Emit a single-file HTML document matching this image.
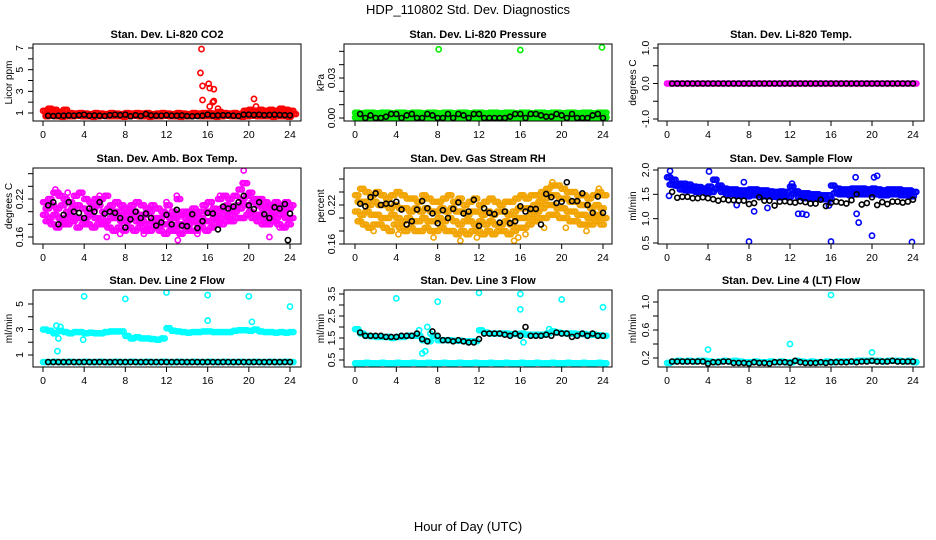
<!DOCTYPE html>
<html><head><meta charset="utf-8"><title>HDP_110802 Std. Dev. Diagnostics</title>
<style>
html,body{margin:0;padding:0;background:#fff;}
svg{display:block;font-family:"Liberation Sans",Arial,sans-serif;}
</style></head>
<body>
<svg id="chart" width="936" height="540" viewBox="0 0 936 540" xmlns="http://www.w3.org/2000/svg">
<text x="468" y="14" font-size="13" text-anchor="middle">HDP_110802  Std. Dev. Diagnostics</text>
<text x="468" y="531" font-size="13" text-anchor="middle">Hour of Day (UTC)</text>
</svg>
<script>
// ---- data (values per time step) ----
const co2Hi=[1.2,1.4,1.3,1.1,1.3,1.0,0.95,1.0,0.95,0.9,1.0,0.95,0.9,1.0,0.95,0.9,1.0,0.95,1.0,0.95,1.0,0.9,0.95,1.0,0.95,0.9,1.0,0.95,0.9,1.0,0.95,1.0,1.0,0.95,1.1,1.0,0.95,1.0,0.9,1.2,1.3,1.2,1.3,1.2,1.3,1.2,1.4,1.3,1.2];
const co2Mid=[0.9,0.85,0.9,0.85,0.85,0.8,0.85,0.85,0.8,0.85,0.85,0.8,0.85,0.85,0.8,0.85,0.85,0.8,0.85,0.85,0.8,0.85,0.85,0.8,0.85,0.85,0.8,0.85,0.85,0.8,0.85,0.85,0.8,0.85,0.85,0.8,0.85,0.85,0.8,0.95,1.0,0.95,1.0,0.95,1.0,0.95,1.0,0.95,0.9];
const co2Lo=[0.7,0.75,0.7,0.65,0.7,0.7,0.75,0.7,0.7,0.65,0.7,0.75,0.7,0.7,0.7,0.65,0.7,0.75,0.7,0.7,0.65,0.7,0.7,0.75,0.7,0.7,0.65,0.7,0.7,0.75,0.7,0.7,0.7,0.65,0.7,0.75,0.7,0.7,0.65,0.7,0.75,0.7,0.7,0.7,0.65,0.7,0.7,0.65];
const co2Black=[0.75,0.72,0.75,0.75,0.78,0.75,0.8,0.85,0.75,0.78,0.75,0.72,0.8,0.85,0.8,0.85,0.7,0.8,0.72,0.9,0.78,0.75,0.75,0.8,0.75,0.75,0.78,0.72,0.7,0.72,0.75,0.85,0.75,0.78,0.8,0.8,0.75,0.72,0.85,0.85,0.82,0.85,0.8,0.82,0.85,0.82,0.8,0.78];
const co2OutHr=[15.4,15.3,15.5,16.1,16.2,16.6,15.5,16.6,16.5,16.2,17.0,20.5,20.7];
const co2OutVal=[6.9,4.7,3.5,3.7,3.3,3.2,2.2,2.1,2.0,1.6,1.4,2.3,1.6];

const presHi=[0.004,0.0035,0.004,0.004,0.0035,0.004,0.004,0.0035,0.004,0.004,0.0035,0.004,0.004,0.0035,0.004,0.004,0.0035,0.004,0.004,0.0035,0.004,0.004,0.0035,0.004,0.004,0.0035,0.004,0.004,0.0035,0.004,0.004,0.0035,0.004,0.004,0.0035,0.004,0.004,0.0035,0.004,0.004,0.0035,0.004,0.004,0.0035,0.004,0.004,0.0035,0.004,0.004];
const presMid=[0.002,0.0018,0.002,0.0022,0.002,0.0018,0.002,0.0022,0.002,0.0018,0.002,0.0022,0.002,0.0018,0.002,0.0022,0.002,0.0018,0.002,0.0022,0.002,0.0018,0.002,0.0022,0.002,0.0018,0.002,0.0022,0.002,0.0018,0.002,0.0022,0.002,0.0018,0.002,0.0022,0.002,0.0018,0.002,0.0022,0.002,0.0018,0.002,0.0022,0.002,0.0018,0.002,0.0022];
const presLo=[0.0003,0.0004,0.0003,0.0002,0.0003,0.0004,0.0003,0.0002,0.0003,0.0004,0.0003,0.0002,0.0003,0.0004,0.0003,0.0002,0.0003,0.0004,0.0003,0.0002,0.0003,0.0004,0.0003,0.0002,0.0003,0.0004,0.0003,0.0002,0.0003,0.0004,0.0003,0.0002,0.0003,0.0004,0.0003,0.0002,0.0003,0.0004,0.0003,0.0002,0.0003,0.0004,0.0003,0.0002,0.0003,0.0004,0.0003,0.0002,0.0003];
const presBlack=[0.003,0.0,0.002,0.0,0.0,0.001,0.003,0.003,0.0,0.002,0.003,0.0,0.0,0.003,0.002,0.0,0.0,0.003,0.0,0.003,0.002,0.0,0.003,0.003,0.0,0.0,0.0,0.0,0.0,0.001,0.003,0.003,0.0,0.003,0.003,0.002,0.001,0.001,0.003,0.002,0.0,0.003,0.0,0.0,0.0,0.002,0.003,0.0];
const presOutHr=[8.1,16.0,23.9];
const presOutVal=[0.0515,0.051,0.053];

const tempMag=[0,0,0,0,0,0,0,0,0,0,0,0,0,0,0,0,0,0,0,0,0,0,0,0,0,0,0,0,0,0,0,0,0,0,0,0,0,0,0,0,0,0,0,0,0,0,0,0,0];
const tempBlack=[0,0,0,0,0,0,0,0,0,0,0,0,0,0,0,0,0,0,0,0,0,0,0,0,0,0,0,0,0,0,0,0,0,0,0,0,0,0,0,0,0,0,0,0,0,0,0,0];

const ambHi=[0.215,0.22,0.23,0.225,0.22,0.215,0.225,0.23,0.22,0.215,0.22,0.22,0.225,0.21,0.215,0.21,0.205,0.21,0.215,0.21,0.205,0.21,0.205,0.2,0.21,0.2,0.22,0.2,0.2,0.205,0.2,0.21,0.215,0.205,0.22,0.225,0.22,0.225,0.235,0.245,0.23,0.22,0.22,0.215,0.21,0.215,0.21,0.215,0.21];
const ambMidHi=[0.205,0.21,0.205,0.21,0.2,0.205,0.21,0.205,0.2,0.205,0.21,0.2,0.205,0.2,0.2,0.195,0.2,0.2,0.195,0.195,0.2,0.19,0.19,0.195,0.19,0.19,0.195,0.19,0.19,0.195,0.19,0.2,0.2,0.2,0.205,0.21,0.205,0.21,0.22,0.225,0.215,0.21,0.205,0.205,0.2,0.205,0.2,0.205];
const ambMidLo=[0.195,0.19,0.195,0.19,0.19,0.195,0.19,0.19,0.19,0.195,0.19,0.19,0.185,0.19,0.19,0.185,0.185,0.19,0.185,0.185,0.18,0.185,0.18,0.18,0.18,0.175,0.18,0.18,0.18,0.185,0.18,0.185,0.185,0.19,0.19,0.195,0.195,0.2,0.205,0.21,0.2,0.195,0.195,0.19,0.195,0.19,0.195,0.19,0.19];
const ambLo=[0.185,0.18,0.175,0.18,0.18,0.185,0.175,0.18,0.18,0.175,0.18,0.18,0.175,0.17,0.175,0.17,0.175,0.17,0.175,0.17,0.17,0.175,0.17,0.165,0.17,0.17,0.165,0.17,0.17,0.17,0.175,0.17,0.175,0.18,0.18,0.185,0.185,0.19,0.19,0.195,0.19,0.185,0.18,0.18,0.185,0.18,0.175,0.18];
const ambOutHr=[1.2,1.5,2.4,5.5,6.2,7.5,9.8,12.0,13.0,13.1,15.0,16.4,17.2,19.5,19.4,22.0,23.0];
const ambOutVal=[0.235,0.23,0.23,0.225,0.16,0.165,0.165,0.215,0.225,0.155,0.165,0.215,0.225,0.265,0.245,0.16,0.175];
const ambBlack=[0.21,0.215,0.18,0.195,0.215,0.2,0.198,0.19,0.205,0.2,0.215,0.197,0.2,0.198,0.19,0.175,0.188,0.2,0.19,0.197,0.19,0.178,0.183,0.195,0.18,0.203,0.178,0.177,0.196,0.174,0.185,0.198,0.197,0.172,0.208,0.205,0.208,0.215,0.225,0.21,0.204,0.215,0.196,0.19,0.207,0.205,0.212,0.197];

const rhHi=[0.235,0.245,0.24,0.235,0.24,0.235,0.23,0.235,0.24,0.235,0.23,0.23,0.225,0.235,0.23,0.225,0.225,0.23,0.235,0.225,0.23,0.22,0.225,0.23,0.22,0.225,0.23,0.225,0.22,0.225,0.225,0.23,0.235,0.23,0.235,0.235,0.24,0.245,0.25,0.25,0.245,0.24,0.24,0.235,0.235,0.23,0.235,0.24,0.235];
const rhMidHi=[0.225,0.225,0.22,0.225,0.22,0.22,0.215,0.22,0.215,0.215,0.21,0.215,0.21,0.215,0.21,0.21,0.215,0.21,0.215,0.21,0.21,0.205,0.21,0.21,0.205,0.21,0.205,0.21,0.21,0.205,0.21,0.215,0.215,0.215,0.22,0.225,0.23,0.235,0.235,0.23,0.23,0.225,0.225,0.22,0.22,0.215,0.22,0.215];
const rhMidLo=[0.21,0.205,0.21,0.205,0.205,0.2,0.2,0.205,0.2,0.195,0.2,0.195,0.195,0.2,0.195,0.195,0.2,0.195,0.2,0.195,0.19,0.195,0.195,0.19,0.195,0.19,0.195,0.19,0.19,0.195,0.19,0.2,0.2,0.2,0.205,0.21,0.215,0.22,0.22,0.215,0.215,0.21,0.21,0.205,0.205,0.2,0.205,0.205,0.2];
const rhLo=[0.195,0.19,0.185,0.19,0.19,0.185,0.18,0.19,0.185,0.18,0.185,0.18,0.18,0.185,0.18,0.18,0.185,0.18,0.18,0.175,0.18,0.175,0.18,0.18,0.175,0.18,0.175,0.18,0.18,0.175,0.18,0.185,0.185,0.19,0.195,0.2,0.2,0.205,0.205,0.2,0.2,0.195,0.195,0.19,0.19,0.19,0.195,0.19];
const rhOutHr=[0.3,1.8,4.2,7.6,9.2,10.2,11.8,15.4,15.8,16.5,18.3,19.1,20.4,22.4,23.6];
const rhOutVal=[0.195,0.18,0.175,0.17,0.235,0.165,0.17,0.165,0.17,0.175,0.185,0.255,0.185,0.18,0.245];
const rhBlack=[0.222,0.218,0.232,0.238,0.22,0.222,0.222,0.225,0.213,0.19,0.195,0.213,0.226,0.215,0.207,0.192,0.212,0.2,0.214,0.224,0.207,0.21,0.228,0.188,0.215,0.208,0.206,0.193,0.21,0.192,0.195,0.218,0.21,0.214,0.214,0.19,0.237,0.232,0.223,0.225,0.255,0.226,0.226,0.238,0.22,0.208,0.233,0.208];

const flowHi=[1.85,1.8,1.72,1.72,1.7,1.66,1.65,1.62,1.66,1.8,1.68,1.62,1.6,1.6,1.58,1.58,1.6,1.6,1.58,1.58,1.56,1.55,1.56,1.55,1.66,1.56,1.52,1.52,1.5,1.5,1.48,1.48,1.68,1.62,1.6,1.6,1.62,1.62,1.62,1.6,1.62,1.6,1.58,1.6,1.6,1.6,1.58,1.58,1.55];
const flowLo=[1.7,1.68,1.6,1.58,1.58,1.55,1.55,1.52,1.55,1.62,1.55,1.5,1.5,1.48,1.48,1.46,1.48,1.48,1.46,1.46,1.45,1.44,1.45,1.44,1.52,1.45,1.42,1.42,1.42,1.42,1.4,1.4,1.52,1.5,1.5,1.48,1.5,1.5,1.5,1.5,1.5,1.48,1.48,1.5,1.5,1.48,1.48,1.46];
const flowOutHr=[0.2,0.3,4.1,6.8,7.5,8.0,8.5,9.8,12.8,13.2,13.6,16.0,18.4,18.5,18.7,20.0,20.2,20.5,23.9,15.8,12.2];
const flowOutVal=[1.47,1.98,1.97,1.28,1.75,0.53,1.15,1.22,1.1,1.1,1.08,0.53,1.85,1.1,0.92,0.65,1.85,1.88,0.52,1.27,1.72];
const flowBlack=[1.55,1.43,1.45,1.45,1.42,1.42,1.44,1.42,1.4,1.37,1.4,1.38,1.38,1.37,1.37,1.3,1.32,1.44,1.37,1.37,1.27,1.35,1.36,1.34,1.33,1.36,1.34,1.31,1.31,1.39,1.26,1.33,1.35,1.33,1.31,1.38,1.5,1.29,1.32,1.44,1.28,1.34,1.3,1.35,1.35,1.33,1.35,1.39];

const l2Hi=[3.0,2.9,2.7,2.9,2.8,2.7,2.8,2.8,2.7,2.75,2.7,2.7,2.8,2.85,2.85,2.85,2.5,2.3,2.4,2.3,2.3,2.25,2.2,2.3,3.1,2.9,2.85,2.8,2.75,2.8,2.8,2.85,2.85,2.8,2.8,2.8,2.8,2.9,2.95,2.95,2.9,3.0,2.85,2.8,2.8,2.75,2.8,2.75,2.8];
const l2Low=[0.45,0.45,0.47,0.45,0.45,0.47,0.45,0.45,0.47,0.45,0.45,0.47,0.45,0.45,0.47,0.45,0.45,0.47,0.45,0.45,0.47,0.45,0.45,0.47,0.45,0.45,0.47,0.45,0.45,0.47,0.45,0.45,0.47,0.45,0.45,0.47,0.45,0.45,0.47,0.45,0.45,0.47,0.45,0.45,0.47,0.45,0.45,0.47,0.45];
const l2OutHr=[4.0,8.0,12.0,16.0,16.0,20.0,20.3,24.0,1.4,1.3,1.5,3.9,1.7];
const l2OutVal=[5.6,5.4,5.9,5.7,3.7,5.6,3.6,4.8,1.3,3.3,2.3,2.2,3.2];
const l2Black=[0.45,0.45,0.45,0.45,0.45,0.45,0.45,0.45,0.45,0.45,0.45,0.45,0.45,0.45,0.45,0.45,0.45,0.45,0.45,0.45,0.45,0.45,0.45,0.45,0.45,0.45,0.45,0.45,0.45,0.45,0.45,0.45,0.45,0.45,0.45,0.45,0.45,0.45,0.45,0.45,0.45,0.45,0.45,0.45,0.45,0.45,0.45,0.45];

const l3Hi=[1.9,1.7,1.6,1.58,1.55,1.55,1.55,1.5,1.55,1.55,1.6,1.6,1.6,1.4,1.35,1.6,1.4,1.4,1.4,1.38,1.38,1.35,1.35,1.35,1.85,1.75,1.7,1.7,1.7,1.7,1.68,1.68,1.7,1.65,1.65,1.65,1.65,1.7,1.8,1.75,1.72,1.7,1.7,1.68,1.68,1.65,1.65,1.62,1.6];
const l3Low=[0.35,0.35,0.37,0.35,0.35,0.37,0.35,0.35,0.37,0.35,0.35,0.37,0.35,0.35,0.37,0.35,0.35,0.37,0.35,0.35,0.37,0.35,0.35,0.37,0.35,0.35,0.37,0.35,0.35,0.37,0.35,0.35,0.37,0.35,0.35,0.37,0.35,0.35,0.37,0.35,0.35,0.37,0.35,0.35,0.37,0.35,0.35,0.37,0.35];
const l3OutHr=[4.0,8.0,12.0,16.0,16.0,20.0,24.0,6.5,6.8,7.0,6.2,7.3,16.3,18.8];
const l3OutVal=[3.3,3.15,3.55,3.5,2.8,3.25,2.9,0.8,0.9,2.0,1.85,1.7,1.3,1.9];
const l3Black=[1.75,1.6,1.6,1.6,1.6,1.55,1.55,1.55,1.6,1.6,1.6,1.7,1.45,1.35,1.8,1.6,1.4,1.4,1.35,1.4,1.35,1.3,1.3,1.45,1.7,1.7,1.7,1.7,1.65,1.6,1.7,1.6,2.0,1.6,1.6,1.6,1.65,1.6,1.75,1.7,1.7,1.55,1.6,1.7,1.6,1.7,1.6,1.6];

const l4Cyan=[0.13,0.15,0.16,0.15,0.16,0.15,0.16,0.16,0.15,0.14,0.15,0.16,0.15,0.16,0.15,0.14,0.14,0.15,0.14,0.14,0.15,0.14,0.15,0.14,0.14,0.16,0.15,0.14,0.15,0.14,0.14,0.15,0.14,0.15,0.15,0.15,0.15,0.16,0.16,0.16,0.16,0.16,0.15,0.16,0.16,0.16,0.15,0.16,0.14];
const l4OutHr=[4.0,12.0,16.0,20.0];
const l4OutVal=[0.32,0.4,1.1,0.28];
const l4Black=[0.15,0.15,0.15,0.15,0.15,0.15,0.15,0.12,0.14,0.14,0.15,0.15,0.13,0.13,0.13,0.12,0.14,0.13,0.13,0.12,0.14,0.14,0.14,0.13,0.16,0.14,0.13,0.13,0.13,0.14,0.13,0.14,0.14,0.14,0.14,0.15,0.14,0.15,0.15,0.16,0.15,0.15,0.15,0.16,0.15,0.15,0.15,0.15];

const xTickLabels=["0","4","8","12","16","20","24"];

// ---- drawing ----
const svg=document.getElementById('chart');
const NS='http://www.w3.org/2000/svg';
function mk(tag,attrs,parent){const e=document.createElementNS(NS,tag);for(const k in attrs)e.setAttribute(k,attrs[k]);(parent||svg).appendChild(e);return e;}

const cols=[{l:33,r:301,x0:43,x24:290,lab:19,yl:8},{l:344,r:612,x0:355,x24:603,lab:331,yl:320},{l:658,r:924,x0:667,x24:913,lab:645,yl:632}];
const rows=[{t:44,b:121},{t:168,b:244},{t:290,b:367}];

function makePanel(name,ci,ri,title,ylab,va,pa,vb,pb,ticks,labels){
  const c=cols[ci],rw=rows[ri];
  const g=mk('g',{});
  
  
  const P={g,sx:h=>c.x0+(c.x24-c.x0)*h/24,sy:v=>pa+(pb-pa)*(v-va)/(vb-va),c,rw};
  const clipId='clip-'+name;
  const cp=mk('clipPath',{id:clipId},g);mk('rect',{x:c.l,y:rw.t,width:c.r-c.l,height:rw.b-rw.t},cp);
  P.marks=mk('g',{'clip-path':'url(#'+clipId+')'},g);
  const box=mk('rect',{x:c.l,y:rw.t,width:c.r-c.l,height:rw.b-rw.t,fill:'none',stroke:'#000','stroke-width':1},g);
  
  
  const t=mk('text',{x:(c.l+c.r)/2,y:rw.t-6,'font-size':11,'font-weight':'bold','text-anchor':'middle'},g);t.textContent=title;
  
  
  const yl=mk('text',{x:0,y:0,'font-size':10,'text-anchor':'middle',transform:`translate(${c.yl+4},${(rw.t+rw.b)/2}) rotate(-90)`},g);yl.textContent=ylab;
  
  
  const xa=mk('g',{},g);
  
  
  xTickLabels.forEach(s=>{const x=P.sx(+s);mk('line',{x1:x,x2:x,y1:rw.b,y2:rw.b+5,stroke:'#000'},xa);
    const tx=mk('text',{x:x,y:rw.b+17,'font-size':10.5,'text-anchor':'middle'},xa);tx.textContent=s;});
  const ya=mk('g',{},g);
  
  
  ticks.forEach(v=>{const y=P.sy(v);mk('line',{x1:c.l-5,x2:c.l,y1:y,y2:y,stroke:'#000'},ya);});
  labels.forEach(s=>{const y=P.sy(parseFloat(s));const tx=mk('text',{x:0,y:0,'font-size':10.5,'text-anchor':'middle',transform:`translate(${c.lab+4},${y}) rotate(-90)`},ya);tx.textContent=s;});
  return P;
}
// dense: each value is drawn at several sub-steps within its interval (samples are denser than the summary arrays)
function series(P,t0,dt,vals,color,name,dense){
  const g=mk('g',{fill:'none',stroke:color,'stroke-width':1.6},P.marks);
  
  
  const n=dense||1;
  vals.forEach((v,i)=>{for(let k=0;k<n;k++){mk('circle',{cx:P.sx(t0+i*dt+k*dt/n),cy:P.sy(v),r:2.5},g);}});
}
function scatter(P,hrs,vals,color,name){
  const g=mk('g',{fill:'none',stroke:color,'stroke-width':1.6},P.marks);
  
  
  hrs.forEach((h,i)=>{mk('circle',{cx:P.sx(h),cy:P.sy(vals[i]),r:2.6},g);});
}

const RED='#ff0000',GRN='#00ee00',MAG='#ff00ff',ORG='#f2a400',BLU='#0000ff',CY='#00ffff',BK='#000000';

let P=makePanel('panel-co2',0,0,'Stan. Dev. Li-820 CO2','Licor ppm',1,113,7,48,[1,2,3,4,5,6,7],['1','3','5','7']);
series(P,0,0.5,co2Hi,RED,'co2-upper',3);series(P,0.25,0.5,co2Mid,RED,'co2-mid',3);series(P,0.25,0.5,co2Lo,RED,'co2-lower',3);
scatter(P,co2OutHr,co2OutVal,RED,'co2-outliers');series(P,0.5,0.5,co2Black,BK,'co2-hourly');

P=makePanel('panel-pressure',1,0,'Stan. Dev. Li-820 Pressure','kPa',0,118,0.03,78,[0,0.01,0.02,0.03,0.04,0.05],['0.00','0.03']);
series(P,0,0.5,presHi,GRN,'pressure-upper',3);series(P,0.25,0.5,presMid,GRN,'pressure-mid',3);series(P,0,0.5,presLo,GRN,'pressure-lower',3);
scatter(P,presOutHr,presOutVal,GRN,'pressure-outliers');series(P,0.5,0.5,presBlack,BK,'pressure-hourly');

P=makePanel('panel-li820-temp',2,0,'Stan. Dev. Li-820 Temp.','degrees C',1,48,-1,119,[-1,-0.5,0,0.5,1],['-1.0','0.0','1.0']);
series(P,0,0.5,tempMag,MAG,'li820-temp-values',3);series(P,0.5,0.5,tempBlack,BK,'li820-temp-hourly');

P=makePanel('panel-amb-temp',0,1,'Stan. Dev. Amb. Box Temp.','degrees C',0.16,237,0.22,199,[0.16,0.18,0.2,0.22,0.24,0.26],['0.16','0.22']);
series(P,0,0.5,ambHi,MAG,'amb-upper',3);series(P,0.25,0.5,ambMidHi,MAG,'amb-mid-upper',3);series(P,0,0.5,ambMidLo,MAG,'amb-mid-lower',3);series(P,0.25,0.5,ambLo,MAG,'amb-lower',3);
scatter(P,ambOutHr,ambOutVal,MAG,'amb-outliers');series(P,0.5,0.5,ambBlack,BK,'amb-hourly');scatter(P,[23.8],[0.155],BK,'amb-hourly-outlier');

P=makePanel('panel-rh',1,1,'Stan. Dev. Gas Stream RH','percent',0.16,244,0.22,205,[0.16,0.18,0.2,0.22,0.24,0.26],['0.16','0.22']);
series(P,0,0.5,rhHi,ORG,'rh-upper',3);series(P,0.25,0.5,rhMidHi,ORG,'rh-mid-upper',3);series(P,0,0.5,rhMidLo,ORG,'rh-mid-lower',3);series(P,0.25,0.5,rhLo,ORG,'rh-lower',3);
scatter(P,rhOutHr,rhOutVal,ORG,'rh-outliers');series(P,0.5,0.5,rhBlack,BK,'rh-hourly');

P=makePanel('panel-sample-flow',2,1,'Stan. Dev. Sample Flow','ml/min',0.5,243,2.0,170,[0.5,1,1.5,2],['0.5','1.0','1.5','2.0']);
series(P,0,0.5,flowHi,BLU,'flow-upper',3);series(P,0.25,0.5,flowLo,BLU,'flow-lower',3);
scatter(P,flowOutHr,flowOutVal,BLU,'flow-outliers');series(P,0.5,0.5,flowBlack,BK,'flow-hourly');

P=makePanel('panel-line2',0,2,'Stan. Dev. Line 2 Flow','ml/min',1,355,5,304,[1,2,3,4,5],['1','3','5']);
series(P,0,0.5,l2Hi,CY,'line2-upper',3);series(P,0,0.5,l2Low,CY,'line2-lower',3);
scatter(P,l2OutHr,l2OutVal,CY,'line2-outliers');series(P,0.5,0.5,l2Black,BK,'line2-hourly');

P=makePanel('panel-line3',1,2,'Stan. Dev. Line 3 Flow','ml/min',0.5,360,3.5,294,[0.5,1,1.5,2,2.5,3,3.5],['0.5','1.5','2.5','3.5']);
series(P,0,0.5,l3Hi,CY,'line3-upper',3);series(P,0,0.5,l3Low,CY,'line3-lower',3);
scatter(P,l3OutHr,l3OutVal,CY,'line3-outliers');series(P,0.5,0.5,l3Black,BK,'line3-hourly');

P=makePanel('panel-line4',2,2,'Stan. Dev. Line 4 (LT) Flow','ml/min',0.2,358,1.0,302,[0.2,0.4,0.6,0.8,1.0],['0.2','0.6','1.0']);
series(P,0,0.5,l4Cyan,CY,'line4-values',3);
scatter(P,l4OutHr,l4OutVal,CY,'line4-outliers');series(P,0.5,0.5,l4Black,BK,'line4-hourly');
</script>
</body></html>
